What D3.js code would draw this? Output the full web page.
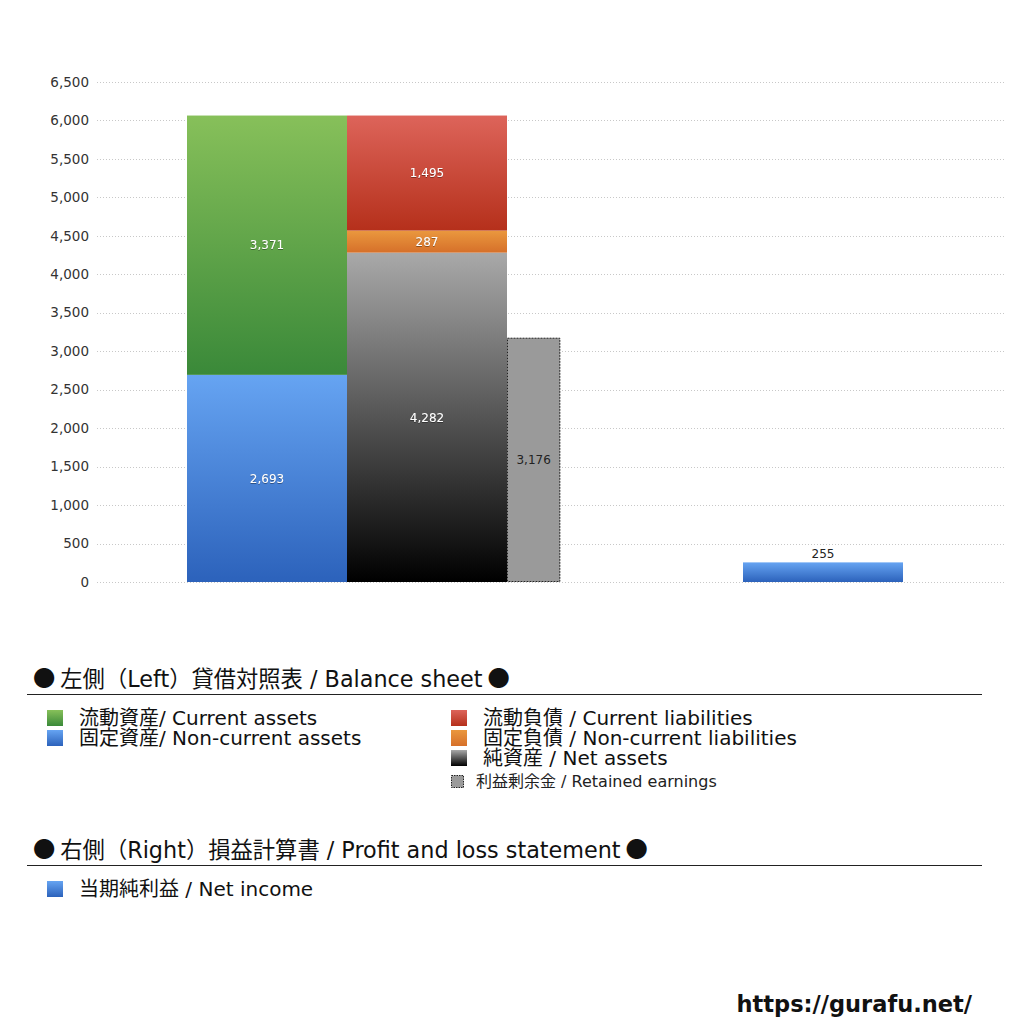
<!DOCTYPE html>
<html>
<head>
<meta charset="utf-8">
<script src="https://cdn.jsdelivr.net/npm/d3@7"></script>
<style>
  body { margin: 0; background: #fff; }
  text { font-family: "DejaVu Sans", "Noto Sans CJK JP", sans-serif; }
  .cjk { font-family: "Noto Sans CJK JP", sans-serif; }
</style>
</head>
<body>
<div id="chart"></div>
<script>
/**
 * DATA
 * */
const yTicks = [0, 500, 1000, 1500, 2000, 2500, 3000, 3500, 4000, 4500, 5000, 5500, 6000, 6500];
const groups = ["left", "right"];

// left: balance sheet (assets column, liabilities + net assets column)
const assetNames = ["固定資産", "流動資産"];
const assetValues = [2693, 3371];
const liabilityNames = ["純資産", "固定負債", "流動負債"];
const liabilityValues = [4282, 287, 1495];
const retainedValue = 3176;
// right: profit and loss
const netIncomeValue = 255;

const legendLeftCol = ["流動資産/ Current assets", "固定資産/ Non-current assets"];
const legendRightCol = ["流動負債 /  Current liabilities", "固定負債 / Non-current liabilities", "純資産 / Net assets"];

/**
 * CONSTANTS
 * */
const width = 1024,
  height = 1024,
  margin = { top: 82, bottom: 442, left: 100, right: 19 };

const gradients = {
  green: ["#87c05a", "#3a8939"],
  blue: ["#66a4f2", "#2c62bb"],
  red: ["#dd645a", "#b5301b"],
  orange: ["#ea983e", "#d6702a"],
  black: ["#a9a9a9", "#000000"],
};
const assetColors = ["blue", "green"];
const liabilityColors = ["black", "orange", "red"];

const svg = d3
  .select("#chart")
  .append("svg")
  .attr("width", width)
  .attr("height", height);

const defs = svg.append("defs");
Object.entries(gradients).forEach(([k, c]) => {
  const g = defs
    .append("linearGradient")
    .attr("id", "g-" + k)
    .attr("x1", 0).attr("y1", 0).attr("x2", 0).attr("y2", 1);
  g.append("stop").attr("offset", "0%").attr("stop-color", c[0]);
  g.append("stop").attr("offset", "100%").attr("stop-color", c[1]);
});
const shadow = defs.append("filter").attr("id", "ts");
shadow
  .append("feDropShadow")
  .attr("dx", 0).attr("dy", 0.6).attr("stdDeviation", 0.5)
  .attr("flood-color", "#000").attr("flood-opacity", 0.6);

/**
 * SCALES
 * */
const y = d3
  .scaleLinear()
  .domain([0, 6500])
  .range([height - margin.bottom, margin.top]);

// each group starts at its own offset; inside a group, columns are 160px slots
const xGroup = d3.scaleBand().domain(groups).range([187, 1299]);
const xSlot = d3.scaleLinear().domain([0, 1]).range([0, 160]);

/**
 * GRID + AXIS
 * */
svg
  .append("g")
  .selectAll("line")
  .data(yTicks)
  .join("line")
  .attr("x1", margin.left - 3)
  .attr("x2", width - margin.right)
  .attr("y1", d => Math.round(y(d)) + 0.5)
  .attr("y2", d => Math.round(y(d)) + 0.5)
  .attr("stroke", "#c8c8c8")
  .attr("stroke-width", 1)
  .attr("stroke-dasharray", "1,2");

svg
  .append("g")
  .selectAll("text")
  .data(yTicks)
  .join("text")
  .attr("x", margin.left - 11)
  .attr("y", d => y(d))
  .attr("dy", "0.35em")
  .attr("text-anchor", "end")
  .attr("font-size", 13.5)
  .attr("fill", "#333")
  .text(d => d3.format(",")(d));

/**
 * STACKED BARS
 * */
function stackCol(values, colors, x0) {
  let base = 0;
  const segs = values.map((v, i) => {
    const s = { y0: base, y1: base + v, v, color: colors[i] };
    base += v;
    return s;
  });
  svg
    .append("g")
    .selectAll("rect")
    .data(segs)
    .join("rect")
    .attr("x", x0)
    .attr("width", xSlot(1))
    .attr("y", d => y(d.y1))
    .attr("height", d => y(d.y0) - y(d.y1))
    .attr("fill", d => `url(#g-${d.color})`);
  svg
    .append("g")
    .selectAll("text")
    .data(segs)
    .join("text")
    .attr("x", x0 + xSlot(0.5))
    .attr("y", d => y((d.y0 + d.y1) / 2))
    .attr("dy", "0.35em")
    .attr("text-anchor", "middle")
    .attr("font-size", 12)
    .attr("fill", "#fff")
    .attr("filter", "url(#ts)")
    .text(d => d3.format(",")(d.v));
}

const leftX = xGroup("left");
stackCol(assetValues, assetColors, leftX + xSlot(0));
stackCol(liabilityValues, liabilityColors, leftX + xSlot(1));

// retained earnings (dashed)
svg
  .append("rect")
  .attr("x", leftX + xSlot(2) + 0.5)
  .attr("width", xSlot(1 / 3) - 1)
  .attr("y", y(retainedValue) + 0.5)
  .attr("height", y(0) - y(retainedValue) - 1)
  .attr("fill", "#9a9a9a")
  .attr("stroke", "#222")
  .attr("stroke-width", 1)
  .attr("stroke-dasharray", "2,1");
svg
  .append("text")
  .attr("x", leftX + xSlot(2) + xSlot(1 / 6))
  .attr("y", y(retainedValue / 2))
  .attr("dy", "0.35em")
  .attr("text-anchor", "middle")
  .attr("font-size", 12)
  .attr("fill", "#222")
  .text(d3.format(",")(retainedValue));

// net income
const rightX = xGroup("right");
svg
  .append("rect")
  .attr("x", rightX)
  .attr("width", xSlot(1))
  .attr("y", y(netIncomeValue))
  .attr("height", y(0) - y(netIncomeValue))
  .attr("fill", "url(#g-blue)");
svg
  .append("text")
  .attr("x", rightX + xSlot(0.5))
  .attr("y", y(netIncomeValue) - 4)
  .attr("text-anchor", "middle")
  .attr("font-size", 12)
  .attr("fill", "#222")
  .text(d3.format(",")(netIncomeValue));

/**
 * LEGEND
 * */
function header(txt, yPos) {
  const t = svg
    .append("text")
    .attr("x", 33)
    .attr("y", yPos)
    .attr("font-size", 22.3)
    .attr("fill", "#111");
  t.append("tspan").attr("class", "cjk").text("● ");
  t.append("tspan").text(txt);
  t.append("tspan").attr("class", "cjk").text(" ●");
  svg
    .append("line")
    .attr("x1", 27)
    .attr("x2", 982)
    .attr("y1", yPos + 7.5)
    .attr("y2", yPos + 7.5)
    .attr("stroke", "#222")
    .attr("stroke-width", 1);
}

function legendItems(items, colors, x, y0) {
  const g = svg.append("g");
  items.forEach((t, i) => {
    g.append("rect")
      .attr("x", x)
      .attr("y", y0 + i * 20)
      .attr("width", 16)
      .attr("height", 16)
      .attr("fill", `url(#g-${colors[i]})`);
    g.append("text")
      .attr("x", x + 32)
      .attr("y", y0 + i * 20 + 8)
      .attr("dy", "0.35em")
      .attr("font-size", 20)
      .attr("fill", "#111")
      .text(t);
  });
}

header("左側（Left）貸借対照表 / Balance sheet", 687);
legendItems(legendLeftCol, ["green", "blue"], 47, 710);
legendItems(legendRightCol, ["red", "orange", "black"], 451, 710);

svg
  .append("rect")
  .attr("x", 451.5)
  .attr("y", 775.5)
  .attr("width", 12)
  .attr("height", 12)
  .attr("fill", "#9a9a9a")
  .attr("stroke", "#222")
  .attr("stroke-dasharray", "1.5,1");
svg
  .append("text")
  .attr("x", 476)
  .attr("y", 781)
  .attr("dy", "0.35em")
  .attr("font-size", 16)
  .attr("fill", "#222")
  .text("利益剰余金 / Retained earnings");

header("右側（Right）損益計算書 / Profit and loss statement", 858);
legendItems(["当期純利益 / Net income"], ["blue"], 47, 881);

svg
  .append("text")
  .attr("x", 972)
  .attr("y", 1012)
  .attr("text-anchor", "end")
  .attr("font-size", 22.5)
  .attr("font-weight", "bold")
  .attr("fill", "#111")
  .text("https://gurafu.net/");
</script>
</body>
</html>
